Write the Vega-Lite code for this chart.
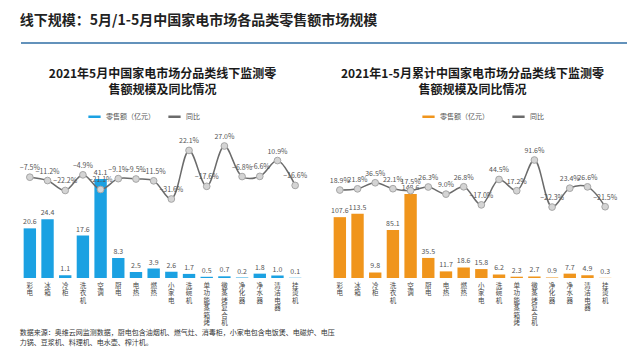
{
  "$schema": "https://vega.github.io/schema/vega-lite/v6.json",
  "background": "white",
  "padding": {"left": 19, "top": 14, "right": 10, "bottom": 2},
  "config": {
    "font": "Noto Sans CJK SC",
    "view": {"stroke": null},
    "title": {"font": "Noto Sans CJK SC"},
    "legend": {"labelFont": "Noto Sans CJK SC"}
  },
  "title": {
    "text": "线下规模：5月/1-5月中国家电市场各品类零售额市场规模",
    "anchor": "start",
    "fontSize": 14,
    "fontWeight": "bold",
    "color": "#222222",
    "offset": 14
  },
  "spacing": 24,
  "vconcat": [
    {
      "width": 606,
      "height": 1,
      "data": {"values": [{"v": 0}]},
      "mark": {"type": "rule", "stroke": "#2f6ea5", "strokeWidth": 1.5},
      "encoding": {"y": {"field": "v", "type": "quantitative", "scale": {"domain": [0, 1]}, "axis": null}}
    },
    {
      "title": {
        "text": ["数据来源：奥维云网监测数据，厨电包含油烟机、燃气灶、消毒柜，小家电包含电饭煲、电磁炉、电压", "力锅、豆浆机、料理机、电水壶、榨汁机。"],
        "orient": "bottom",
        "anchor": "start",
        "fontSize": 7,
        "fontWeight": "normal",
        "color": "#333333",
        "lineHeight": 10,
        "offset": 3
      },
      "spacing": 21,
      "resolve": {"scale": {"color": "independent"}, "legend": {"color": "independent"}},
      "hconcat": [
        {
          "title": {"text": ["2021年5月中国家电市场分品类线下监测零", "售额规模及同比情况"], "fontSize": 12, "fontWeight": "bold", "color": "#1a1a1a", "anchor": "middle", "lineHeight": 16, "offset": 12},
          "width": 283,
          "height": 147,
          "data": {"values": [
            {"cat": "彩电", "sales": 20.6, "yoy": -0.075},
            {"cat": "冰箱", "sales": 24.4, "yoy": -0.112},
            {"cat": "冷柜", "sales": 1.1, "yoy": -0.222},
            {"cat": "洗衣机", "sales": 17.6, "yoy": -0.049},
            {"cat": "空调", "sales": 41.1, "yoy": -0.211},
            {"cat": "厨电", "sales": 8.3, "yoy": -0.091},
            {"cat": "电热", "sales": 2.5, "yoy": -0.095},
            {"cat": "燃热", "sales": 3.9, "yoy": -0.115},
            {"cat": "小家电", "sales": 2.6, "yoy": -0.316},
            {"cat": "洗碗机", "sales": 1.7, "yoy": 0.221},
            {"cat": "单功能蒸箱烤", "sales": 0.5, "yoy": -0.176},
            {"cat": "微蒸烤复合机", "sales": 0.7, "yoy": 0.270},
            {"cat": "净化器", "sales": 0.2, "yoy": -0.068},
            {"cat": "净水器", "sales": 1.8, "yoy": -0.066},
            {"cat": "清洁电器", "sales": 1.0, "yoy": 0.109},
            {"cat": "挂烫机", "sales": 0.1, "yoy": -0.166}
          ]},
          "encoding": {
            "x": {
              "field": "cat", "type": "nominal", "sort": null, "title": null,
              "scale": {"paddingInner": 0.3, "paddingOuter": 0.15},
              "axis": {"labelExpr": "split(datum.label, '')", "labelAngle": 0, "labelFontSize": 6.5, "labelLineHeight": 7.5, "labelColor": "#444444", "domain": false, "ticks": false, "labelPadding": 4, "labelBaseline": "top", "labelAlign": "center", "labelOverlap": false, "labelBound": false}
            }
          },
          "layer": [
            {
              "mark": {"type": "bar"},
              "encoding": {
                "y": {"field": "sales", "type": "quantitative", "scale": {"domain": [0, 61], "nice": false}, "axis": null},
                "color": {
                  "datum": "零售额（亿元）",
                  "scale": {"domain": ["零售额（亿元）", "同比"], "range": ["#1ba1e2", "#6b6b6b"]},
                  "legend": {"orient": "none", "legendX": 66, "legendY": -22, "direction": "horizontal", "title": null, "labelFontSize": 7, "labelColor": "#555555", "symbolType": "stroke", "symbolStrokeWidth": 2.5, "symbolSize": 150, "columnPadding": 8}
                }
              }
            },
            {
              "mark": {"type": "text", "dy": -6, "fontSize": 7, "color": "#555555"},
              "encoding": {
                "y": {"field": "sales", "type": "quantitative", "scale": {"domain": [0, 61], "nice": false}, "axis": null},
                "text": {"field": "sales", "type": "quantitative", "format": ".1f"}
              }
            },
            {
              "mark": {"type": "line", "interpolate": "catmull-rom", "strokeWidth": 1.5},
              "encoding": {
                "y": {"field": "yoy", "type": "quantitative", "scale": {"domain": [-1.19, 0.436], "nice": false, "zero": false}, "axis": null},
                "color": {"datum": "同比"}
              }
            },
            {
              "mark": {"type": "point", "filled": true, "size": 45, "fill": "#d4d4d4", "stroke": "#a6a6a6", "strokeWidth": 1, "opacity": 1},
              "encoding": {
                "y": {"field": "yoy", "type": "quantitative", "scale": {"domain": [-1.19, 0.436], "nice": false, "zero": false}, "axis": null}
              }
            },
            {
              "mark": {"type": "text", "dy": -9, "fontSize": 7, "color": "#555555"},
              "encoding": {
                "y": {"field": "yoy", "type": "quantitative", "scale": {"domain": [-1.19, 0.436], "nice": false, "zero": false}, "axis": null},
                "text": {"field": "yoy", "type": "quantitative", "format": ".1%"}
              }
            }
          ],
          "resolve": {"scale": {"y": "independent"}}
        },
        {
          "title": {"text": ["2021年1-5月累计中国家电市场分品类线下监测零", "售额规模及同比情况"], "fontSize": 12, "fontWeight": "bold", "color": "#1a1a1a", "anchor": "middle", "lineHeight": 16, "offset": 12},
          "width": 283,
          "height": 147,
          "data": {"values": [
            {"cat": "彩电", "sales": 107.6, "yoy": 0.189},
            {"cat": "冰箱", "sales": 113.5, "yoy": 0.218},
            {"cat": "冷柜", "sales": 9.8, "yoy": 0.365},
            {"cat": "洗衣机", "sales": 85.1, "yoy": 0.221},
            {"cat": "空调", "sales": 148.6, "yoy": 0.175},
            {"cat": "厨电", "sales": 35.5, "yoy": 0.263},
            {"cat": "电热", "sales": 11.7, "yoy": 0.090},
            {"cat": "燃热", "sales": 18.6, "yoy": 0.268},
            {"cat": "小家电", "sales": 15.8, "yoy": -0.170},
            {"cat": "洗碗机", "sales": 6.2, "yoy": 0.445},
            {"cat": "单功能蒸箱烤", "sales": 2.3, "yoy": 0.172},
            {"cat": "微蒸烤复合机", "sales": 2.7, "yoy": 0.916},
            {"cat": "净化器", "sales": 0.9, "yoy": -0.223},
            {"cat": "净水器", "sales": 7.7, "yoy": 0.234},
            {"cat": "清洁电器", "sales": 4.9, "yoy": 0.266},
            {"cat": "挂烫机", "sales": 0.3, "yoy": -0.215}
          ]},
          "encoding": {
            "x": {
              "field": "cat", "type": "nominal", "sort": null, "title": null,
              "scale": {"paddingInner": 0.3, "paddingOuter": 0.15},
              "axis": {"labelExpr": "split(datum.label, '')", "labelAngle": 0, "labelFontSize": 6.5, "labelLineHeight": 7.5, "labelColor": "#444444", "domain": false, "ticks": false, "labelPadding": 4, "labelBaseline": "top", "labelAlign": "center", "labelOverlap": false, "labelBound": false}
            }
          },
          "layer": [
            {
              "mark": {"type": "bar"},
              "encoding": {
                "y": {"field": "sales", "type": "quantitative", "scale": {"domain": [0, 260], "nice": false}, "axis": null},
                "color": {
                  "datum": "零售额（亿元）",
                  "scale": {"domain": ["零售额（亿元）", "同比"], "range": ["#f0951c", "#6b6b6b"]},
                  "legend": {"orient": "none", "legendX": 90, "legendY": -22, "direction": "horizontal", "title": null, "labelFontSize": 7, "labelColor": "#555555", "symbolType": "stroke", "symbolStrokeWidth": 2.5, "symbolSize": 150, "columnPadding": 18}
                }
              }
            },
            {
              "mark": {"type": "text", "dy": -6, "fontSize": 7, "color": "#555555"},
              "encoding": {
                "y": {"field": "sales", "type": "quantitative", "scale": {"domain": [0, 260], "nice": false}, "axis": null},
                "text": {"field": "sales", "type": "quantitative", "format": ".1f"}
              }
            },
            {
              "mark": {"type": "line", "interpolate": "catmull-rom", "strokeWidth": 1.5},
              "encoding": {
                "y": {"field": "yoy", "type": "quantitative", "scale": {"domain": [-1.94, 1.618], "nice": false, "zero": false}, "axis": null},
                "color": {"datum": "同比"}
              }
            },
            {
              "mark": {"type": "point", "filled": true, "size": 45, "fill": "#d4d4d4", "stroke": "#a6a6a6", "strokeWidth": 1, "opacity": 1},
              "encoding": {
                "y": {"field": "yoy", "type": "quantitative", "scale": {"domain": [-1.94, 1.618], "nice": false, "zero": false}, "axis": null}
              }
            },
            {
              "mark": {"type": "text", "dy": -9, "fontSize": 7, "color": "#555555"},
              "encoding": {
                "y": {"field": "yoy", "type": "quantitative", "scale": {"domain": [-1.94, 1.618], "nice": false, "zero": false}, "axis": null},
                "text": {"field": "yoy", "type": "quantitative", "format": ".1%"}
              }
            }
          ],
          "resolve": {"scale": {"y": "independent"}}
        }
      ]
    }
  ]
}
